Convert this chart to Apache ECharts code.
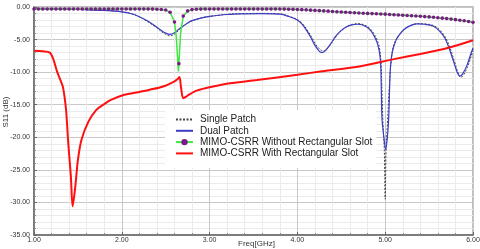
<!DOCTYPE html>
<html><head><meta charset="utf-8">
<script src="https://cdn.jsdelivr.net/npm/echarts/dist/echarts.min.js"></script>
<style>html,body{margin:0;padding:0;background:#fff}#c{width:480px;height:249px}</style>
</head><body><div id="c"></div>
<script>
// ---- data ----
const seriesNames = ['Single Patch', 'Dual Patch', 'MIMO-CSRR Without Rectangular Slot', 'MIMO-CSRR With Rectangular Slot'];

const freqS = [1.00,1.20,1.40,1.60,1.80,1.90,2.00,2.10,2.20,2.30,2.40,2.45,2.50,2.55,2.60,2.65,2.70,2.75,2.80,2.90,3.00,3.20,3.40,3.60,3.80,3.90,4.00,4.06,4.11,4.16,4.21,4.26,4.29,4.33,4.38,4.44,4.50,4.56,4.63,4.69,4.76,4.83,4.89,4.93,4.952,4.962,4.975,4.99,5.000,5.01,5.025,5.04,5.055,5.07,5.09,5.13,5.17,5.22,5.29,5.37,5.46,5.56,5.63,5.69,5.74,5.79,5.83,5.86,5.89,5.94,5.98,6.00];
const valS = [-0.28,-0.28,-0.33,-0.40,-0.50,-0.60,-0.75,-1.00,-1.50,-2.30,-3.20,-3.75,-4.20,-4.45,-4.15,-3.55,-2.95,-2.50,-2.12,-1.70,-1.45,-1.12,-1.00,-0.98,-1.05,-1.40,-1.95,-2.60,-3.50,-4.55,-5.75,-6.55,-6.75,-6.50,-5.70,-4.55,-3.65,-3.05,-2.65,-2.55,-2.75,-3.35,-4.55,-6.00,-8.5,-12.5,-18.0,-22.0,-29.5,-22.0,-18.0,-14.0,-10.5,-8.0,-6.2,-4.8,-4.1,-3.40,-2.85,-2.55,-2.60,-2.90,-3.65,-4.75,-6.35,-8.40,-10.1,-10.8,-10.5,-9.10,-7.50,-6.40];

const freqD = [1.00,1.20,1.40,1.60,1.80,1.90,2.00,2.10,2.20,2.30,2.40,2.45,2.50,2.55,2.60,2.65,2.70,2.75,2.80,2.90,3.00,3.20,3.40,3.60,3.80,3.90,4.00,4.05,4.10,4.15,4.20,4.25,4.28,4.32,4.37,4.43,4.49,4.55,4.62,4.68,4.75,4.82,4.88,4.92,4.945,4.955,4.963,4.985,5.005,5.025,5.04,5.05,5.06,5.08,5.12,5.16,5.21,5.28,5.36,5.45,5.55,5.62,5.68,5.73,5.78,5.82,5.85,5.88,5.93,5.97,6.00];
const valD = [-0.30,-0.30,-0.35,-0.42,-0.52,-0.62,-0.75,-1.00,-1.50,-2.20,-3.10,-3.60,-4.00,-4.20,-3.95,-3.40,-2.90,-2.45,-2.10,-1.70,-1.45,-1.15,-1.05,-1.02,-1.10,-1.45,-2.00,-2.60,-3.50,-4.60,-5.90,-6.80,-7.00,-6.70,-5.80,-4.60,-3.70,-3.10,-2.75,-2.65,-2.80,-3.40,-4.60,-6.00,-8.10,-12.0,-17.0,-20.0,-21.9,-20.0,-17.0,-12.5,-9.20,-7.00,-5.20,-4.30,-3.50,-2.90,-2.60,-2.65,-2.95,-3.70,-4.80,-6.40,-8.40,-10.0,-10.6,-10.3,-9.00,-7.40,-6.30];

const freqW = [1.00,1.05,1.10,1.15,1.20,1.25,1.30,1.35,1.40,1.45,1.50,1.55,1.60,1.65,1.70,1.75,1.80,1.85,1.90,1.95,2.00,2.05,2.10,2.15,2.20,2.25,2.30,2.35,2.40,2.45,2.50,2.55,2.60,2.65,2.70,2.75,2.80,2.85,2.90,2.95,3.00,3.05,3.10,3.15,3.20,3.25,3.30,3.35,3.40,3.45,3.50,3.55,3.60,3.65,3.70,3.75,3.80,3.85,3.90,3.95,4.00,4.05,4.10,4.15,4.20,4.25,4.30,4.35,4.40,4.45,4.50,4.55,4.60,4.65,4.70,4.75,4.80,4.85,4.90,4.95,5.00,5.05,5.10,5.15,5.20,5.25,5.30,5.35,5.40,5.45,5.50,5.55,5.60,5.65,5.70,5.75,5.80,5.85,5.90,5.95,6.00];
const valW = [-0.30,-0.30,-0.30,-0.30,-0.30,-0.30,-0.30,-0.30,-0.30,-0.30,-0.30,-0.30,-0.30,-0.30,-0.30,-0.30,-0.30,-0.30,-0.30,-0.30,-0.30,-0.30,-0.30,-0.30,-0.30,-0.30,-0.30,-0.32,-0.34,-0.38,-0.45,-0.80,-2.30,-8.70,-1.40,-0.60,-0.40,-0.34,-0.32,-0.30,-0.30,-0.30,-0.30,-0.30,-0.30,-0.30,-0.30,-0.30,-0.30,-0.30,-0.30,-0.30,-0.30,-0.30,-0.30,-0.30,-0.30,-0.32,-0.34,-0.36,-0.38,-0.41,-0.44,-0.48,-0.52,-0.56,-0.60,-0.64,-0.68,-0.72,-0.76,-0.80,-0.84,-0.88,-0.92,-0.95,-0.98,-1.01,-1.04,-1.07,-1.10,-1.14,-1.18,-1.22,-1.26,-1.30,-1.34,-1.38,-1.42,-1.47,-1.52,-1.58,-1.64,-1.71,-1.78,-1.86,-1.94,-2.03,-2.12,-2.22,-2.33];
// extra resolution of the green trace at the notch (drawn without markers)
const freqWx = [2.62, 2.645, 2.67];
const valWx = [-4.5, -9.9, -4.0];

const freqR = [1.00,1.10,1.18,1.22,1.26,1.30,1.33,1.365,1.39,1.42,1.44,1.47,1.50,1.54,1.62,1.71,1.80,1.87,2.02,2.21,2.32,2.47,2.60,2.64,2.657,2.675,2.70,2.73,2.76,2.86,3.04,3.23,3.54,4.00,4.26,4.72,5.10,5.40,5.71,6.00];
const valR = [-6.7,-6.8,-7.0,-8.0,-9.8,-11.2,-12.3,-15.8,-20.9,-26.0,-30.6,-27.6,-23.5,-20.4,-17.6,-15.8,-14.9,-14.3,-13.5,-13.0,-12.7,-12.2,-11.4,-11.0,-10.75,-12.4,-14.0,-13.8,-13.5,-12.8,-12.2,-11.7,-11.2,-10.4,-9.9,-9.1,-8.0,-7.2,-6.3,-5.1];

const xMin = 1, xMax = 6, xStep = 1;
const yMin = -35, yMax = 0, yStep = 5;

// ---- build ----
const pairs = (xs, ys) => xs.map((x, i) => [x, ys[i]]);
const wData = pairs(freqW, valW).map(p => ({ value: p }))
  .concat(pairs(freqWx, valWx).map(p => ({ value: p, symbol: 'none' })))
  .sort((a, b) => a.value[0] - b.value[0]);

const FONT = '"Liberation Sans", Arial, sans-serif';
const chart = echarts.init(document.getElementById('c'), null, { renderer: 'canvas' });
chart.setOption({
  animation: false,
  backgroundColor: '#fff',
  textStyle: { fontFamily: FONT },
  grid: { left: 34, right: 7, top: 7, bottom: 14, show: true, borderColor: '#a8a8a8', borderWidth: 1.5, backgroundColor: '#fff',
          containLabel: false, outerBoundsMode: 'none' },
  xAxis: {
    type: 'value', min: xMin, max: xMax, interval: xStep,
    name: 'Freq[GHz]', nameLocation: 'middle', nameGap: 5, nameMoveOverlap: false,
    nameTextStyle: { fontSize: 8, color: '#333', fontFamily: FONT, padding: [0, 0, 0, 6] },
    axisLine: { show: true, onZero: false, lineStyle: { color: '#666', width: 1.5 } },
    axisTick: { show: true, inside: true, length: 3, lineStyle: { color: '#666' } },
    minorTick: { show: true, splitNumber: 5, length: 2, lineStyle: { color: '#888' } },
    axisLabel: { fontSize: 7, color: '#333', margin: 2, formatter: v => v.toFixed(2), fontFamily: FONT },
    splitLine: { show: true, lineStyle: { color: '#c8c8c8', width: 1 } },
    minorSplitLine: { show: true, lineStyle: { color: '#ebebeb', width: 1 } }
  },
  yAxis: {
    type: 'value', min: yMin, max: yMax, interval: yStep,
    axisLine: { show: true, onZero: false, lineStyle: { color: '#666', width: 1.5 } },
    axisTick: { show: true, inside: true, length: 3, lineStyle: { color: '#666' } },
    minorTick: { show: true, splitNumber: 5, length: 2, lineStyle: { color: '#888' } },
    axisLabel: { fontSize: 7, color: '#333', margin: 4, formatter: v => v.toFixed(2), fontFamily: FONT },
    splitLine: { show: true, lineStyle: { color: '#c8c8c8', width: 1 } },
    minorSplitLine: { show: true, lineStyle: { color: '#ebebeb', width: 1 } }
  },
  graphic: [{
    type: 'text', x: 6, y: 112, rotation: Math.PI / 2,
    style: { text: 'S11 (dB)', fontSize: 8, fill: '#333', fontFamily: FONT, align: 'center', verticalAlign: 'middle' }
  }],
  legend: {
    orient: 'vertical', left: 165, top: 110,
    padding: [4, 4, 9, 10],
    backgroundColor: '#fff',
    itemWidth: 17, itemHeight: 8, itemGap: 0.3,
    textStyle: { fontSize: 10, color: '#222', lineHeight: 11, fontFamily: FONT, padding: [0, 0, 0, 2] },
    data: [
      { name: seriesNames[0], itemStyle: { opacity: 0 } },
      { name: seriesNames[1], itemStyle: { opacity: 0 } },
      { name: seriesNames[2] },
      { name: seriesNames[3], itemStyle: { opacity: 0 } }
    ]
  },
  series: [
    { name: seriesNames[0], type: 'line', data: pairs(freqS, valS), symbol: 'none', smooth: 0.35,
      lineStyle: { color: '#444', width: 1, type: [2, 1.5] }, itemStyle: { color: '#444' }, z: 2 },
    { name: seriesNames[1], type: 'line', data: pairs(freqD, valD), symbol: 'none', smooth: 0.35,
      lineStyle: { color: '#3b3bc4', width: 1.2 }, itemStyle: { color: '#3b3bc4' }, z: 3 },
    { name: seriesNames[2], type: 'line', data: wData, symbol: 'circle', symbolSize: 3.6, showSymbol: true, showAllSymbol: true,
      lineStyle: { color: '#3ee83e', width: 1.5 }, itemStyle: { color: '#7a1a86', borderWidth: 0 }, z: 4 },
    { name: seriesNames[3], type: 'line', data: pairs(freqR, valR), symbol: 'none', smooth: 0.3,
      lineStyle: { color: '#ff1010', width: 2 }, itemStyle: { color: '#ff1010' }, z: 5 }
  ]
});
</script>
</body></html>
